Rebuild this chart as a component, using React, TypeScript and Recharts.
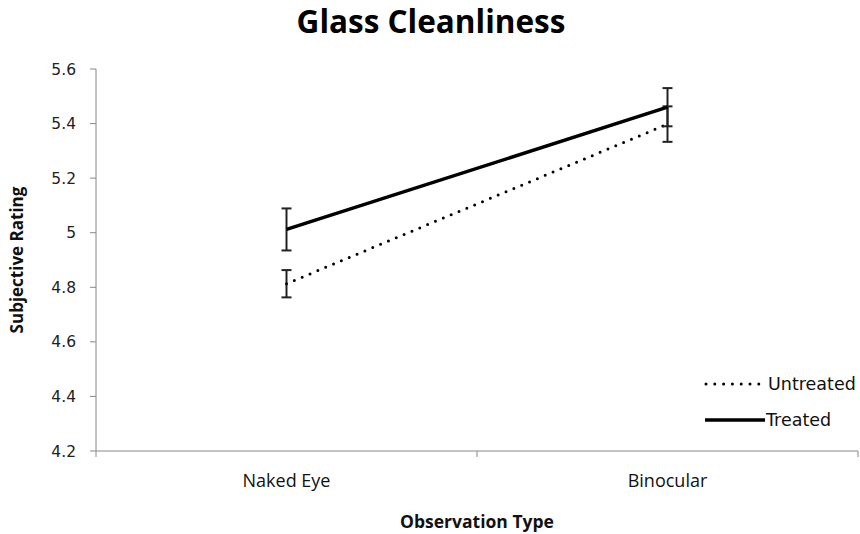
import React from "react";
import { LineChart, Line, XAxis, YAxis, ErrorBar, Label } from "recharts";

const categories = ["Naked Eye", "Binocular"];
const categoryPositions = [0.5, 1.5];
const untreated = [4.813, 5.398];
const untreatedErr = [0.05, 0.065];
const treated = [5.012, 5.46];
const treatedErr = [0.077, 0.07];
const yTicks = [4.2, 4.4, 4.6, 4.8, 5, 5.2, 5.4, 5.6];
const xTicks = [0, 0.5, 1, 1.5, 2];

const data = categories.map((c, i) => ({
  name: c,
  pos: categoryPositions[i],
  untreated: untreated[i],
  untreatedErr: untreatedErr[i],
  treated: treated[i],
  treatedErr: treatedErr[i],
}));

const AXIS = "#888888";
const FONT = "'Open Sans', 'Noto Sans', sans-serif";

const XTick = (props: any) => {
  const { x, y, payload } = props;
  const v = payload.value;
  if (Number.isInteger(v)) {
    return <line x1={x} x2={x} y1={y - 6} y2={y} stroke={AXIS} strokeWidth={1} />;
  }
  const idx = categoryPositions.indexOf(v);
  return (
    <text x={x} y={y + 30} textAnchor="middle" fontFamily={FONT} fontSize={18} fill="#111">
      {categories[idx]}
    </text>
  );
};

export default function App() {
  return (
    <div style={{ position: "absolute", left: 0, top: 0, width: 860, height: 534, background: "#fff" }}>
      <LineChart width={860} height={534} data={data} margin={{ top: 69, right: 2, left: 0, bottom: 0 }}>
        <text x={431} y={33} textAnchor="middle" fontFamily={FONT} fontWeight={700} fontSize={31.5} fill="#000">
          Glass Cleanliness
        </text>
        <XAxis
          dataKey="pos"
          type="number"
          domain={[0, 2]}
          ticks={xTicks}
          tickLine={false}
          tickSize={6}
          tickMargin={0}
          tick={<XTick />}
          axisLine={{ stroke: AXIS }}
          height={83}
          interval={0}
        >
          <Label value="Observation Type" position="insideBottom" offset={6} fontFamily={FONT} fontWeight={700} fontSize={17.5} fill="#111" />
        </XAxis>
        <YAxis
          type="number"
          domain={[4.2, 5.6]}
          ticks={yTicks}
          interval={0}
          width={96}
          tickSize={6}
          tickMargin={14}
          tickLine={{ stroke: AXIS }}
          axisLine={{ stroke: AXIS }}
          tick={{ fontFamily: "'DejaVu Sans', sans-serif", fontSize: 15.5, fill: "#222" }}
        >
          <Label value="Subjective Rating" angle={-90} position="insideLeft" offset={17} style={{ textAnchor: "middle" }} fontFamily={FONT} fontWeight={700} fontSize={17} fill="#111" />
        </YAxis>
        <Line
          dataKey="untreated"
          stroke="#000"
          strokeWidth={3}
          strokeDasharray="0 8.5"
          strokeLinecap="round"
          dot={false}
          isAnimationActive={false}
        >
          <ErrorBar dataKey="untreatedErr" direction="y" width={5} stroke="#222" strokeWidth={2} />
        </Line>
        <Line
          dataKey="treated"
          stroke="#000"
          strokeWidth={3.5}
          dot={false}
          isAnimationActive={false}
        >
          <ErrorBar dataKey="treatedErr" direction="y" width={5} stroke="#222" strokeWidth={2} />
        </Line>
        <g>
          <line x1={706} x2={760} y1={384} y2={384} stroke="#000" strokeWidth={3} strokeDasharray="0 8.8" strokeLinecap="round" />
          <text x={768} y={390} fontFamily="'DejaVu Sans', sans-serif" fontSize={17.5} fill="#111">Untreated</text>
          <line x1={705} x2={765} y1={420} y2={420} stroke="#000" strokeWidth={3.5} />
          <text x={766} y={426} fontFamily="'DejaVu Sans', sans-serif" fontSize={17.5} fill="#111">Treated</text>
        </g>
      </LineChart>
    </div>
  );
}
